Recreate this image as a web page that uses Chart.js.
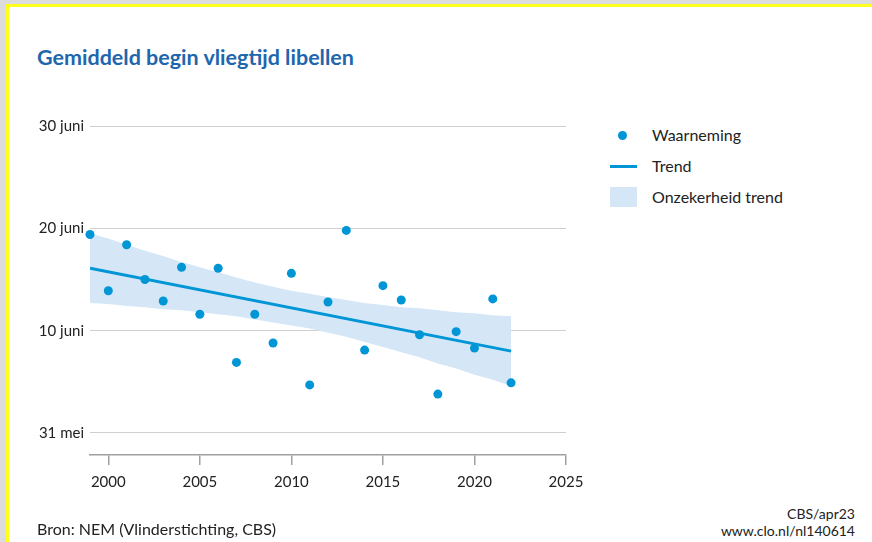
<!DOCTYPE html>
<html lang="nl">
<head>
<meta charset="utf-8">
<title>Gemiddeld begin vliegtijd libellen</title>
<script src="https://cdn.jsdelivr.net/npm/chart.js@4.4.1/dist/chart.umd.min.js"></script>
<style>
  html, body { margin: 0; padding: 0; }
  body { width: 872px; height: 542px; background: #dcdcdc; position: relative; overflow: hidden; font-family: Lato, "Open Sans", sans-serif; color: #222; }
  .kader { position: absolute; left: 6px; top: 4px; right: -10px; bottom: -10px; background: #fff; border-top: 3px solid #ffff1e; border-left: 3px solid #ffff1e; }
  #grafiek { position: absolute; left: 0; top: 0; }
  .titel { position: absolute; left: 37px; top: 44px; font-size: 21.5px; font-weight: bold; color: #1e66ad; white-space: nowrap; }
  .legenda { position: absolute; left: 609px; top: 124px; font-size: 16px; }
  .item { position: relative; height: 31px; line-height: 22px; padding-left: 43px; }
  .stip { position: absolute; left: 9px; top: 7px; width: 9px; height: 9px; border-radius: 50%; background: #0096d6; }
  .lijn { position: absolute; left: 1px; top: 10px; width: 27px; height: 3px; background: #0096d6; }
  .vlak { position: absolute; left: 1px; top: 1px; width: 27px; height: 20px; background: #d5e7f7; }
  .bron { position: absolute; left: 37px; top: 519px; font-size: 16px; }
  .id { position: absolute; right: 17px; top: 505px; font-size: 14px; text-align: right; line-height: 17px; }
</style>
</head>
<body>
<div class="kader"></div>
<div class="titel">Gemiddeld begin vliegtijd libellen</div>
<canvas id="grafiek" width="600" height="542"></canvas>
<div class="legenda">
  <div class="item"><span class="stip"></span>Waarneming</div>
  <div class="item"><span class="lijn"></span>Trend</div>
  <div class="item"><span class="vlak"></span>Onzekerheid trend</div>
</div>
<div class="bron">Bron: NEM (Vlinderstichting, CBS)</div>
<div class="id">CBS/apr23<br>www.clo.nl/nl140614</div>

<script>
// Jaren en waarnemingen (dagen na 31 mei)
const jaren = [1999, 2000, 2001, 2002, 2003, 2004, 2005, 2006, 2007, 2008, 2009, 2010,
  2011, 2012, 2013, 2014, 2015, 2016, 2017, 2018, 2019, 2020, 2021, 2022];
const waarneming = [19.4, 13.9, 18.4, 15.0, 12.9, 16.2, 11.6, 16.1, 6.9, 11.6, 8.8, 15.6,
  4.7, 12.8, 19.8, 8.1, 14.4, 13.0, 9.6, 3.8, 9.9, 8.3, 13.1, 4.9];

// Trendlijn: begin- en eindpunt
const trendJaren = [1999, 2022];
const trend = [16.1, 8.0];

// Onzekerheidsband per jaar
const bandBoven = [19.5, 19.0, 18.4, 17.8, 17.3, 16.7, 16.2, 15.7, 15.2, 14.7, 14.3, 13.9,
  13.6, 13.3, 13.0, 12.7, 12.5, 12.3, 12.2, 12.0, 11.8, 11.7, 11.5, 11.4];
const bandOnder = [12.7, 12.6, 12.4, 12.3, 12.1, 12.0, 11.8, 11.6, 11.4, 11.1, 10.8, 10.5,
  10.2, 9.8, 9.4, 8.9, 8.4, 7.9, 7.4, 6.8, 6.3, 5.7, 5.2, 4.6];

// As-labels
const xTicks = [2000, 2005, 2010, 2015, 2020, 2025];
const yTicks = [0, 10, 20, 30];
const yLabels = ['31 mei', '10 juni', '20 juni', '30 juni'];

const blauw = '#0096d6';
const lichtblauw = '#d5e7f7';

const punten = (xs, ys) => xs.map((x, i) => ({ x: x, y: ys[i] }));

const ctx = document.getElementById('grafiek').getContext('2d');
new Chart(ctx, {
  type: 'line',
  data: {
    datasets: [
      {
        label: 'Waarneming',
        data: punten(jaren, waarneming),
        showLine: false,
        pointRadius: 4.5,
        pointBorderWidth: 0,
        pointBackgroundColor: blauw,
        clip: false
      },
      {
        label: 'Trend',
        data: punten(trendJaren, trend),
        borderColor: blauw,
        borderWidth: 3,
        pointRadius: 0,
        fill: false
      },
      {
        label: 'onder',
        data: punten(jaren, bandOnder),
        borderWidth: 0,
        pointRadius: 0,
        fill: false
      },
      {
        label: 'Onzekerheid trend',
        data: punten(jaren, bandBoven),
        borderWidth: 0,
        pointRadius: 0,
        backgroundColor: lichtblauw,
        fill: '-1'
      }
    ]
  },
  options: {
    responsive: false,
    animation: false,
    layout: { padding: { left: 0, top: 126, right: 34, bottom: 0 } },
    plugins: {
      legend: { display: false },
      tooltip: { enabled: false }
    },
    scales: {
      x: {
        type: 'linear',
        min: 1999,
        max: 2025,
        afterBuildTicks: (scale) => { scale.ticks = xTicks.map(v => ({ value: v })); },
        afterFit: (scale) => { scale.height = 87; },
        grid: { drawOnChartArea: false, drawTicks: true, tickLength: 10, color: '#a0a0a0', lineWidth: 1.5 },
        border: { display: true, color: '#a0a0a0', width: 1.5 },
        ticks: {
          padding: 8,
          color: '#222',
          font: { family: 'Lato', size: 15 },
          maxRotation: 0,
          callback: (v) => String(v)
        }
      },
      y: {
        min: -2.15,
        max: 30,
        afterBuildTicks: (scale) => { scale.ticks = yTicks.map(v => ({ value: v })); },
        afterFit: (scale) => { scale.width = 90; },
        grid: { drawTicks: false, color: '#cfcfcf', lineWidth: 1 },
        border: { display: false },
        ticks: {
          padding: 6,
          color: '#222',
          font: { family: 'Lato', size: 15 },
          callback: (v) => yLabels[yTicks.indexOf(v)]
        }
      }
    }
  }
});
</script>
</body>
</html>
